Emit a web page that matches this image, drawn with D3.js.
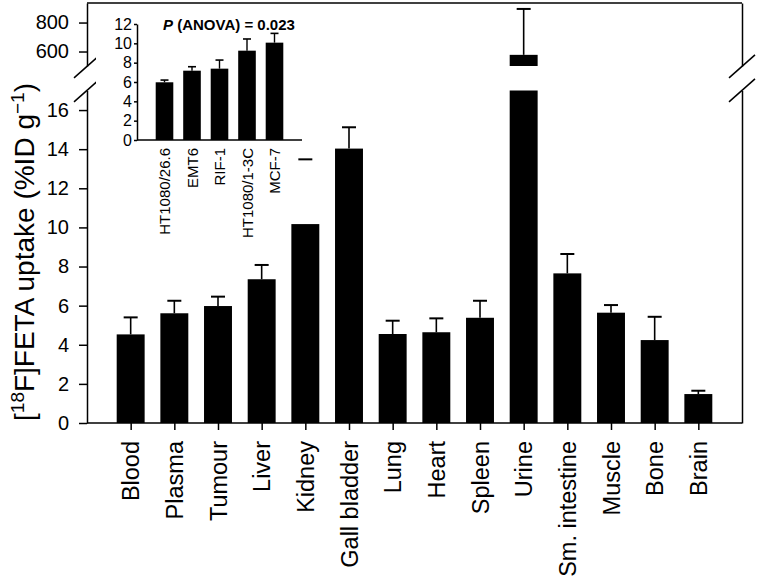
<!DOCTYPE html>
<html lang="en">
<head>
  <meta charset="UTF-8">
  <title>[18F]FETA uptake</title>
  <script src="https://d3js.org/d3.v7.min.js"></script>
  <style>
    body { margin: 0; background: #fff; }
    svg { font-family: "Liberation Sans", Arial, sans-serif; }
  </style>
</head>
<body>

<div id="chart"></div>

<script>
  // Tissue biodistribution (mean and error)
  const tissues = ["Blood", "Plasma", "Tumour", "Liver", "Kidney", "Gall bladder", "Lung",
    "Heart", "Spleen", "Urine", "Sm. intestine", "Muscle", "Bone", "Brain"];
  const uptake = [4.53, 5.61, 5.98, 7.35, 10.17, 14.03, 4.55, 4.64, 5.38, 577, 7.65, 5.64, 4.24, 1.48];
  const uptakeErr = [0.87, 0.64, 0.48, 0.73, 3.31, 1.09, 0.68, 0.71, 0.87, 317, 0.99, 0.39, 1.19, 0.17];

  // Inset: tumour uptake by cell line
  const cellLines = ["HT1080/26.6", "EMT6", "RIF-1", "HT1080/1-3C", "MCF-7"];
  const tumourUptake = [5.97, 7.17, 7.38, 9.24, 10.07];
  const tumourErr = [0.23, 0.41, 0.89, 1.21, 0.96];

  const lowerTicks = [0, 2, 4, 6, 8, 10, 12, 14, 16];
  const upperTicks = [600, 800];
  const insetTicks = [0, 2, 4, 6, 8, 10, 12];

  const width = 757, height = 583;
  const plotL = 87, plotR = 742, plotB = 423, plotT = 3;

  const svg = d3.select("#chart").append("svg")
    .attr("width", width)
    .attr("height", height);

  // scales (broken y axis: lower 0-17, upper 500-935)
  const x = d3.scalePoint().domain(tissues).range([plotL, plotR]).padding(1);
  const yLow = d3.scaleLinear().domain([0, 17]).range([plotB, 90.5]);
  const yHigh = d3.scaleLinear().domain([500, 935]).range([66, plotT]);
  const barW = x.step() * 0.64;
  const capW = 14;

  const rows = tissues.map((t, i) => ({ t, v: uptake[i], e: uptakeErr[i] }));
  const isBroken = d => d.v > yLow.domain()[1];

  // bars
  svg.selectAll(".bar").data(rows).enter().append("rect")
    .attr("x", d => x(d.t) - barW / 2)
    .attr("width", barW)
    .attr("y", d => isBroken(d) ? yLow(yLow.domain()[1]) : yLow(d.v))
    .attr("height", d => plotB - (isBroken(d) ? yLow(yLow.domain()[1]) : yLow(d.v)))
    .attr("fill", "#000");

  // part of the bar above the break
  svg.selectAll(".barTop").data(rows.filter(isBroken)).enter().append("rect")
    .attr("x", d => x(d.t) - barW / 2)
    .attr("width", barW)
    .attr("y", d => yHigh(d.v))
    .attr("height", d => yHigh(yHigh.domain()[0]) - yHigh(d.v))
    .attr("fill", "#000");

  const yOf = (d, val) => isBroken(d) ? yHigh(val) : yLow(val);

  // error whiskers
  svg.selectAll(".whisker").data(rows).enter().append("line")
    .attr("x1", d => x(d.t)).attr("x2", d => x(d.t))
    .attr("y1", d => yOf(d, d.v))
    .attr("y2", d => yOf(d, d.v + d.e))
    .attr("stroke", "#000").attr("stroke-width", 1.6);

  // axes
  const axisStyle = g => {
    g.selectAll("path, line").attr("stroke", "#000").attr("stroke-width", 1.5);
    g.selectAll("text").attr("fill", "#000");
    g.attr("font-family", null);
  };

  svg.append("g")
    .attr("transform", `translate(${plotL},0)`)
    .call(d3.axisLeft(yLow).tickValues(lowerTicks).tickSize(8).tickSizeOuter(0).tickPadding(10))
    .call(axisStyle)
    .attr("font-size", 20);

  svg.append("g")
    .attr("transform", `translate(${plotL},0)`)
    .call(d3.axisLeft(yHigh).tickValues(upperTicks).tickSize(8).tickSizeOuter(0).tickPadding(10))
    .call(axisStyle)
    .attr("font-size", 20);

  svg.append("g")
    .attr("transform", `translate(${plotR},0)`)
    .call(d3.axisRight(yLow).tickValues([]).tickSizeOuter(0))
    .call(axisStyle);

  svg.append("g")
    .attr("transform", `translate(${plotR},0)`)
    .call(d3.axisRight(yHigh).tickValues([]).tickSizeOuter(0))
    .call(axisStyle);

  svg.append("line")
    .attr("x1", plotL).attr("x2", plotR).attr("y1", plotT).attr("y2", plotT)
    .attr("stroke", "#000").attr("stroke-width", 1.5);

  const xAxis = svg.append("g")
    .attr("transform", `translate(0,${plotB})`)
    .call(d3.axisBottom(x).tickSize(7).tickSizeOuter(0))
    .call(axisStyle)
    .attr("font-size", 23.5);
  xAxis.select(".domain").attr("d", `M${plotL},0H${plotR}`);
  xAxis.selectAll(".tick text")
    .attr("transform", "rotate(-90)")
    .attr("x", -18).attr("y", 0).attr("dy", "0.35em")
    .attr("text-anchor", "end");

  // break marks
  [plotL, plotR].forEach(ax => {
    [66.9, 90.9].forEach(cy => {
      svg.append("line")
        .attr("x1", ax - 13).attr("y1", cy + 11)
        .attr("x2", ax + 13).attr("y2", cy - 12)
        .attr("stroke", "#000").attr("stroke-width", 1.5);
    });
  });

  // y title
  const yTitle = svg.append("text")
    .attr("transform", "translate(34,252) rotate(-90)")
    .attr("text-anchor", "middle")
    .attr("font-size", 28);
  yTitle.append("tspan").text("[");
  yTitle.append("tspan").attr("font-size", 19).attr("dy", -10).text("18");
  yTitle.append("tspan").attr("dy", 10).text("F]FETA uptake (%ID g");
  yTitle.append("tspan").attr("font-size", 19).attr("dy", -10).text("\u22121");
  yTitle.append("tspan").attr("dy", 10).text(")");

  // inset (white panel hides what lies under it)
  svg.append("rect")
    .attr("x", 96).attr("y", 8).attr("width", 214).attr("height", 216)
    .attr("fill", "#fff");

  const ix = d3.scalePoint().domain(cellLines).range([137, 302]).padding(1);
  const iy = d3.scaleLinear().domain([0, 12]).range([140, 24]);
  const iBarW = ix.step() * 0.64;
  const inset = cellLines.map((c, i) => ({ c, v: tumourUptake[i], e: tumourErr[i] }));

  svg.selectAll(".ibar").data(inset).enter().append("rect")
    .attr("x", d => ix(d.c) - iBarW / 2)
    .attr("width", iBarW)
    .attr("y", d => iy(d.v))
    .attr("height", d => iy(0) - iy(d.v))
    .attr("fill", "#000");

  svg.selectAll(".iwhisker").data(inset).enter().append("line")
    .attr("x1", d => ix(d.c)).attr("x2", d => ix(d.c))
    .attr("y1", d => iy(d.v)).attr("y2", d => iy(d.v + d.e))
    .attr("stroke", "#000").attr("stroke-width", 1.4);

  svg.selectAll(".icap").data(inset).enter().append("line")
    .attr("x1", d => ix(d.c) - 4).attr("x2", d => ix(d.c) + 4)
    .attr("y1", d => iy(d.v + d.e)).attr("y2", d => iy(d.v + d.e))
    .attr("stroke", "#000").attr("stroke-width", 1.6);

  svg.append("g")
    .attr("transform", "translate(137,0)")
    .call(d3.axisLeft(iy).tickValues(insetTicks).tickSize(3).tickSizeOuter(0).tickPadding(2))
    .call(axisStyle)
    .attr("font-size", 16);

  const ixAxis = svg.append("g")
    .attr("transform", `translate(0,${iy(0)})`)
    .call(d3.axisBottom(ix).tickSize(0).tickSizeOuter(0))
    .call(axisStyle)
    .attr("font-size", 15);
  ixAxis.select(".domain").attr("d", "M137,0H302");
  ixAxis.selectAll(".tick text")
    .attr("transform", "rotate(-90)")
    .attr("x", -8).attr("y", 0).attr("dy", "0.35em")
    .attr("text-anchor", "end");

  const pText = svg.append("text")
    .attr("x", 163).attr("y", 30)
    .attr("font-size", 15).attr("font-weight", "bold");
  pText.append("tspan").attr("font-style", "italic").text("P");
  pText.append("tspan").text(" (ANOVA) = 0.023");

  // caps for the main bars, drawn last
  svg.selectAll(".cap").data(rows).enter().append("line")
    .attr("x1", d => x(d.t) - capW / 2).attr("x2", d => x(d.t) + capW / 2)
    .attr("y1", d => yOf(d, d.v + d.e))
    .attr("y2", d => yOf(d, d.v + d.e))
    .attr("stroke", "#000").attr("stroke-width", 2);
</script>

</body>
</html>
